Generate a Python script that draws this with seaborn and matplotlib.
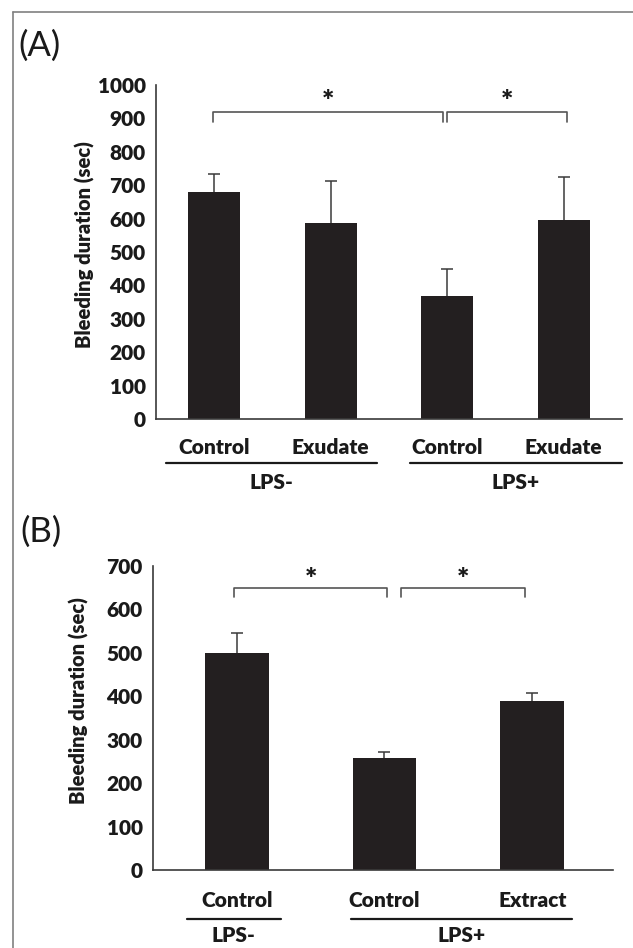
import numpy as np
import pandas as pd
import matplotlib
matplotlib.use("Agg")
import matplotlib.pyplot as plt
import matplotlib.transforms as mtransforms
from matplotlib.lines import Line2D
import seaborn as sns

# --- data ---
# panel A
a_treat = ["Control", "Exudate", "Control", "Exudate"]
a_group = ["LPS-", "LPS-", "LPS+", "LPS+"]
a_mean = [680, 588, 367, 596]
a_sem = [55, 124, 82, 130]
a_ticks = [0, 100, 200, 300, 400, 500, 600, 700, 800, 900, 1000]
a_pairs = [(0, 2), (2, 3)]

# panel B
b_treat = ["Control", "Control", "Extract"]
b_group = ["LPS-", "LPS+", "LPS+"]
b_mean = [499, 257, 388]
b_sem = [47, 15, 20]
b_ticks = [0, 100, 200, 300, 400, 500, 600, 700]
b_pairs = [(0, 1), (1, 2)]

sns.set_theme(style="white")
plt.rcParams["font.family"] = ["Lato", "DejaVu Sans"]

BAR = "#231f20"
AXC = "#3a3a3a"
TXT = "#1a1a1a"
WT = "heavy"
W, H = 633, 948

fig = plt.figure(figsize=(W / 100, H / 100), dpi=100)


def px_axes(left, right, top, bottom):
    return fig.add_axes([left / W, 1 - bottom / H, (right - left) / W, (bottom - top) / H])


def panel(ax, treat, group, mean, sem, ticks, pairs, xlim, width,
          tick_pad, ylab_xy, line_y, grp_y, line_ext, br_off, br_y, star_y):
    df = pd.DataFrame({"key": [f"{g}|{t}" for g, t in zip(group, treat)], "mean": mean})
    sns.barplot(data=df, x="key", y="mean", color=BAR, saturation=1, width=width,
                errorbar=None, ax=ax, linewidth=0)
    x = np.arange(len(mean))
    eb = ax.errorbar(x, mean, yerr=[np.zeros(len(sem)), sem], fmt="none", ecolor=AXC,
                     elinewidth=1.1, capsize=4.5, capthick=1.1)
    # keep only the upper cap
    eb[1][0].remove()

    ax.set_xlim(*xlim)
    ax.set_ylim(0, ticks[-1])
    ax.set_yticks(ticks)
    ax.set_yticklabels([str(t) for t in ticks], fontsize=15, fontweight=WT, color=TXT)
    ax.set_xticks(x)
    ax.set_xticklabels(treat, fontsize=15, fontweight=WT, color=TXT)
    ax.tick_params(axis="x", length=0, pad=tick_pad)
    ax.tick_params(axis="y", length=4.5, width=1.1, color=AXC, direction="out", pad=3)
    ax.set_xlabel("")
    ax.set_ylabel("Bleeding duration (sec)", fontsize=14.5, fontweight=WT, color=TXT)
    ax.yaxis.label.set_va("center")
    ax.yaxis.set_label_coords(*ylab_xy)
    sns.despine(ax=ax)
    for s in ("left", "bottom"):
        ax.spines[s].set_color(AXC)
        ax.spines[s].set_linewidth(1.2)

    # group underlines and labels
    tr = mtransforms.blended_transform_factory(ax.transData, ax.transAxes)
    names = list(dict.fromkeys(group))
    for k, g in enumerate(names):
        idx = [i for i, gg in enumerate(group) if gg == g]
        x0, x1 = idx[0] + line_ext[k][0], idx[-1] + line_ext[k][1]
        ax.add_line(Line2D([x0, x1], [line_y, line_y], transform=tr, color=TXT,
                           lw=1.6, clip_on=False))
        ax.text((x0 + x1) / 2, grp_y, g, transform=tr, ha="center", va="center",
                fontsize=15, fontweight=WT, color=TXT)

    # significance brackets
    for k, (i, j) in enumerate(pairs):
        x0, x1 = i + br_off[k][0], j + br_off[k][1]
        ax.plot([x0, x0, x1, x1], [br_y[1], br_y[0], br_y[0], br_y[1]],
                color="#555555", lw=1.2, clip_on=False)
        ax.text((x0 + x1) / 2, star_y, "*", ha="center", va="center",
                fontsize=21, fontweight=WT, color=TXT)


ax_a = px_axes(156, 622, 85, 419)
panel(ax_a, a_treat, a_group, a_mean, a_sem, a_ticks, a_pairs,
      xlim=(-0.5, 3.5), width=0.45, tick_pad=14, ylab_xy=(-0.152, 0.522),
      line_y=-0.132, grp_y=-0.189,
      line_ext=[(-0.41, 0.40), (-0.32, 0.50)],
      br_off=[(-0.01, -0.04), (0.0, 0.03)],
      br_y=(918, 890), star_y=948)

ax_b = px_axes(153, 613, 566, 870)
panel(ax_b, b_treat, b_group, b_mean, b_sem, b_ticks, b_pairs,
      xlim=(-0.567, 2.547), width=0.43, tick_pad=15, ylab_xy=(-0.162, 0.559),
      line_y=-0.161, grp_y=-0.214,
      line_ext=[(-0.34, 0.30), (-0.23, 0.27)],
      br_off=[(-0.02, 0.02), (0.11, -0.05)],
      br_y=(649, 628), star_y=668)

# panel letters
fig.text(40 / W, 1 - 46 / H, "(A)", fontsize=25, ha="center", va="center", color=TXT)
fig.text(41 / W, 1 - 532 / H, "(B)", fontsize=25, ha="center", va="center", color=TXT)

# outer frame (left and top edges visible)
fig.add_artist(Line2D([12.5 / W, 12.5 / W], [0, 1 - 11.5 / H], transform=fig.transFigure,
                      color="#808080", lw=1.2))
fig.add_artist(Line2D([12.5 / W, 1], [1 - 11.5 / H, 1 - 11.5 / H], transform=fig.transFigure,
                      color="#808080", lw=1.2))

fig.savefig("out.png", dpi=100)
